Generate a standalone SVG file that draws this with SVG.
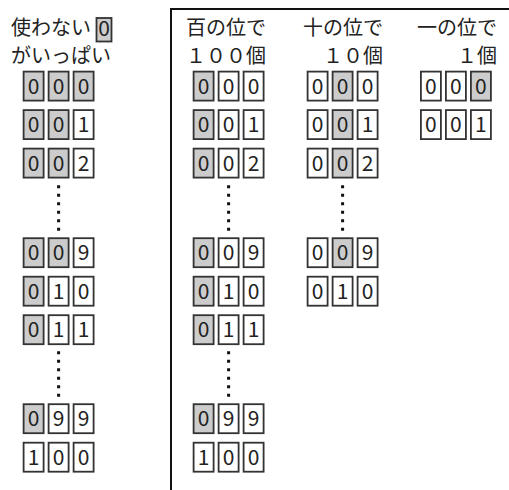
<svg xmlns="http://www.w3.org/2000/svg" width="509" height="490" viewBox="0 0 509 490">
<style>
.bg{fill:#fff}
.c{stroke:#333;stroke-width:1.8;fill:#fff}
.g{stroke:#333;stroke-width:1.8;fill:#cccccc}
.d{font-family:"Noto Sans CJK JP","Noto Sans",sans-serif;font-size:21px;fill:#222;text-anchor:middle}
.h{font-family:"Noto Sans CJK JP","Noto Sans CJK SC",sans-serif;font-size:20px;fill:#222}
.e{text-anchor:end}
.dots{stroke:#111;stroke-width:3;stroke-dasharray:3 5.5;fill:none}
.frame{stroke:#111;stroke-width:2;fill:none}
</style>
<rect class="bg" x="0" y="0" width="509" height="490"/>
<path class="frame" d="M171,490 V9 H510"/>

<g id="title-left">
<text class="h" x="11" y="35" font-size="21">使わない</text>
<rect class="g" x="96.5" y="18" width="15" height="23.5" stroke-width="1.5"/>
<text class="d" x="104" y="35.5" font-size="14">0</text>
<text class="h" x="11" y="63" font-size="20.5">がいっぱい</text>
</g>
<g id="title-hundreds">
<text class="h" x="186" y="35">百の位で</text>
<text class="h e" x="266" y="63">１００個</text>
</g>
<g id="title-tens">
<text class="h" x="303" y="35">十の位で</text>
<text class="h e" x="383" y="63">１０個</text>
</g>
<g id="title-ones">
<text class="h" x="417" y="35">一の位で</text>
<text class="h e" x="497" y="63">１個</text>
</g>

<!-- Panel 1 -->
<g id="p1-000">
<rect class="g" x="23.6" y="71.6" width="20" height="29"/><rect class="g" x="48.6" y="71.6" width="20" height="29"/><rect class="g" x="73.6" y="71.6" width="20" height="29"/>
<text class="d" x="33.6" y="93.8">0</text><text class="d" x="58.6" y="93.8">0</text><text class="d" x="83.6" y="93.8">0</text>
</g>
<g id="p1-001">
<rect class="g" x="23.6" y="110.1" width="20" height="29"/><rect class="g" x="48.6" y="110.1" width="20" height="29"/><rect class="c" x="73.6" y="110.1" width="20" height="29"/>
<text class="d" x="33.6" y="132.3">0</text><text class="d" x="58.6" y="132.3">0</text><text class="d" x="83.6" y="132.3">1</text>
</g>
<g id="p1-002">
<rect class="g" x="23.6" y="148.6" width="20" height="29"/><rect class="g" x="48.6" y="148.6" width="20" height="29"/><rect class="c" x="73.6" y="148.6" width="20" height="29"/>
<text class="d" x="33.6" y="170.8">0</text><text class="d" x="58.6" y="170.8">0</text><text class="d" x="83.6" y="170.8">2</text>
</g>
<g id="p1-009">
<rect class="g" x="23.6" y="238.2" width="20" height="29"/><rect class="g" x="48.6" y="238.2" width="20" height="29"/><rect class="c" x="73.6" y="238.2" width="20" height="29"/>
<text class="d" x="33.6" y="260.4">0</text><text class="d" x="58.6" y="260.4">0</text><text class="d" x="83.6" y="260.4">9</text>
</g>
<g id="p1-010">
<rect class="g" x="23.6" y="276.7" width="20" height="29"/><rect class="c" x="48.6" y="276.7" width="20" height="29"/><rect class="c" x="73.6" y="276.7" width="20" height="29"/>
<text class="d" x="33.6" y="298.9">0</text><text class="d" x="58.6" y="298.9">1</text><text class="d" x="83.6" y="298.9">0</text>
</g>
<g id="p1-011">
<rect class="g" x="23.6" y="315.2" width="20" height="29"/><rect class="c" x="48.6" y="315.2" width="20" height="29"/><rect class="c" x="73.6" y="315.2" width="20" height="29"/>
<text class="d" x="33.6" y="337.4">0</text><text class="d" x="58.6" y="337.4">1</text><text class="d" x="83.6" y="337.4">1</text>
</g>
<g id="p1-099">
<rect class="g" x="23.6" y="404.2" width="20" height="29"/><rect class="c" x="48.6" y="404.2" width="20" height="29"/><rect class="c" x="73.6" y="404.2" width="20" height="29"/>
<text class="d" x="33.6" y="426.4">0</text><text class="d" x="58.6" y="426.4">9</text><text class="d" x="83.6" y="426.4">9</text>
</g>
<g id="p1-100">
<rect class="c" x="23.6" y="442.7" width="20" height="29"/><rect class="c" x="48.6" y="442.7" width="20" height="29"/><rect class="c" x="73.6" y="442.7" width="20" height="29"/>
<text class="d" x="33.6" y="464.9">1</text><text class="d" x="58.6" y="464.9">0</text><text class="d" x="83.6" y="464.9">0</text>
</g>

<!-- Panel 2, hundreds -->
<g id="h-000">
<rect class="g" x="193.6" y="71.6" width="20" height="29"/><rect class="c" x="218.6" y="71.6" width="20" height="29"/><rect class="c" x="243.6" y="71.6" width="20" height="29"/>
<text class="d" x="203.6" y="93.8">0</text><text class="d" x="228.6" y="93.8">0</text><text class="d" x="253.6" y="93.8">0</text>
</g>
<g id="h-001">
<rect class="g" x="193.6" y="110.1" width="20" height="29"/><rect class="c" x="218.6" y="110.1" width="20" height="29"/><rect class="c" x="243.6" y="110.1" width="20" height="29"/>
<text class="d" x="203.6" y="132.3">0</text><text class="d" x="228.6" y="132.3">0</text><text class="d" x="253.6" y="132.3">1</text>
</g>
<g id="h-002">
<rect class="g" x="193.6" y="148.6" width="20" height="29"/><rect class="c" x="218.6" y="148.6" width="20" height="29"/><rect class="c" x="243.6" y="148.6" width="20" height="29"/>
<text class="d" x="203.6" y="170.8">0</text><text class="d" x="228.6" y="170.8">0</text><text class="d" x="253.6" y="170.8">2</text>
</g>
<g id="h-009">
<rect class="g" x="193.6" y="238.2" width="20" height="29"/><rect class="c" x="218.6" y="238.2" width="20" height="29"/><rect class="c" x="243.6" y="238.2" width="20" height="29"/>
<text class="d" x="203.6" y="260.4">0</text><text class="d" x="228.6" y="260.4">0</text><text class="d" x="253.6" y="260.4">9</text>
</g>
<g id="h-010">
<rect class="g" x="193.6" y="276.7" width="20" height="29"/><rect class="c" x="218.6" y="276.7" width="20" height="29"/><rect class="c" x="243.6" y="276.7" width="20" height="29"/>
<text class="d" x="203.6" y="298.9">0</text><text class="d" x="228.6" y="298.9">1</text><text class="d" x="253.6" y="298.9">0</text>
</g>
<g id="h-011">
<rect class="g" x="193.6" y="315.2" width="20" height="29"/><rect class="c" x="218.6" y="315.2" width="20" height="29"/><rect class="c" x="243.6" y="315.2" width="20" height="29"/>
<text class="d" x="203.6" y="337.4">0</text><text class="d" x="228.6" y="337.4">1</text><text class="d" x="253.6" y="337.4">1</text>
</g>
<g id="h-099">
<rect class="g" x="193.6" y="404.2" width="20" height="29"/><rect class="c" x="218.6" y="404.2" width="20" height="29"/><rect class="c" x="243.6" y="404.2" width="20" height="29"/>
<text class="d" x="203.6" y="426.4">0</text><text class="d" x="228.6" y="426.4">9</text><text class="d" x="253.6" y="426.4">9</text>
</g>
<g id="h-100">
<rect class="c" x="193.6" y="442.7" width="20" height="29"/><rect class="c" x="218.6" y="442.7" width="20" height="29"/><rect class="c" x="243.6" y="442.7" width="20" height="29"/>
<text class="d" x="203.6" y="464.9">1</text><text class="d" x="228.6" y="464.9">0</text><text class="d" x="253.6" y="464.9">0</text>
</g>

<!-- Panel 2, tens -->
<g id="t-000">
<rect class="c" x="307.6" y="71.6" width="20" height="29"/><rect class="g" x="332.6" y="71.6" width="20" height="29"/><rect class="c" x="357.6" y="71.6" width="20" height="29"/>
<text class="d" x="317.6" y="93.8">0</text><text class="d" x="342.6" y="93.8">0</text><text class="d" x="367.6" y="93.8">0</text>
</g>
<g id="t-001">
<rect class="c" x="307.6" y="110.1" width="20" height="29"/><rect class="g" x="332.6" y="110.1" width="20" height="29"/><rect class="c" x="357.6" y="110.1" width="20" height="29"/>
<text class="d" x="317.6" y="132.3">0</text><text class="d" x="342.6" y="132.3">0</text><text class="d" x="367.6" y="132.3">1</text>
</g>
<g id="t-002">
<rect class="c" x="307.6" y="148.6" width="20" height="29"/><rect class="g" x="332.6" y="148.6" width="20" height="29"/><rect class="c" x="357.6" y="148.6" width="20" height="29"/>
<text class="d" x="317.6" y="170.8">0</text><text class="d" x="342.6" y="170.8">0</text><text class="d" x="367.6" y="170.8">2</text>
</g>
<g id="t-009">
<rect class="c" x="307.6" y="238.2" width="20" height="29"/><rect class="g" x="332.6" y="238.2" width="20" height="29"/><rect class="c" x="357.6" y="238.2" width="20" height="29"/>
<text class="d" x="317.6" y="260.4">0</text><text class="d" x="342.6" y="260.4">0</text><text class="d" x="367.6" y="260.4">9</text>
</g>
<g id="t-010">
<rect class="c" x="307.6" y="276.7" width="20" height="29"/><rect class="c" x="332.6" y="276.7" width="20" height="29"/><rect class="c" x="357.6" y="276.7" width="20" height="29"/>
<text class="d" x="317.6" y="298.9">0</text><text class="d" x="342.6" y="298.9">1</text><text class="d" x="367.6" y="298.9">0</text>
</g>

<!-- Panel 2, ones -->
<g id="o-000">
<rect class="c" x="420.9" y="71.6" width="20" height="29"/><rect class="c" x="445.9" y="71.6" width="20" height="29"/><rect class="g" x="470.9" y="71.6" width="20" height="29"/>
<text class="d" x="430.9" y="93.8">0</text><text class="d" x="455.9" y="93.8">0</text><text class="d" x="480.9" y="93.8">0</text>
</g>
<g id="o-001">
<rect class="c" x="420.9" y="110.1" width="20" height="29"/><rect class="c" x="445.9" y="110.1" width="20" height="29"/><rect class="c" x="470.9" y="110.1" width="20" height="29"/>
<text class="d" x="430.9" y="132.3">0</text><text class="d" x="455.9" y="132.3">0</text><text class="d" x="480.9" y="132.3">1</text>
</g>

<g id="ellipses">
<line class="dots" x1="58.6" y1="185.2" x2="58.6" y2="231"/>
<line class="dots" x1="58.6" y1="351.2" x2="58.6" y2="397"/>
<line class="dots" x1="228.6" y1="185.2" x2="228.6" y2="231"/>
<line class="dots" x1="228.6" y1="351.2" x2="228.6" y2="397"/>
<line class="dots" x1="342.6" y1="185.2" x2="342.6" y2="231"/>
</g>
</svg>
